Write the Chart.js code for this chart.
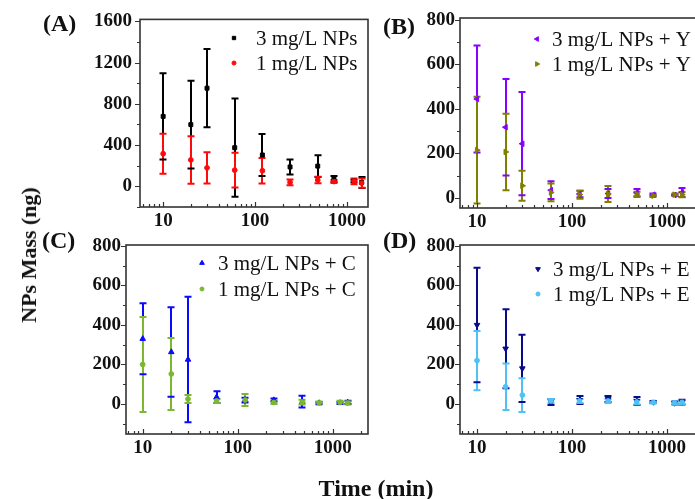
<!DOCTYPE html>
<html><head><meta charset="utf-8">
<script src="https://cdn.jsdelivr.net/npm/chart.js@4.4.1/dist/chart.umd.min.js"></script>
<style>
html,body{margin:0;padding:0;width:695px;height:499px;overflow:hidden;background:#fff;}
.cv{position:absolute;left:0;top:0;}
.lbl{position:absolute;font-family:"Liberation Serif","Times New Roman",serif;font-weight:bold;color:#111;white-space:nowrap;line-height:1;}
</style></head><body>
<canvas id="cA" class="cv" width="695" height="499"></canvas>
<canvas id="cB" class="cv" width="760" height="499"></canvas>
<canvas id="cC" class="cv" width="695" height="499"></canvas>
<canvas id="cD" class="cv" width="760" height="499"></canvas>
<div class="lbl" style="left:43px;top:11px;font-size:24px;">(A)</div>
<div class="lbl" style="left:383px;top:14px;font-size:24px;">(B)</div>
<div class="lbl" style="left:42px;top:228px;font-size:24px;">(C)</div>
<div class="lbl" style="left:383px;top:228px;font-size:24px;">(D)</div>
<div class="lbl" id="ytitle" style="left:29px;top:255px;font-size:22px;transform:translate(-50%,-50%) rotate(-90deg);">NPs Mass (ng)</div>
<div class="lbl" style="left:376px;top:488px;font-size:24px;transform:translate(-50%,-50%);">Time (min)</div>
<script>
// ---- data ----
const times = [10, 20, 30, 60, 120, 240, 480, 720, 1200, 1440];
const xTickLabels = [10, 100, 1000];
const yTicksA = [0, 400, 800, 1200, 1600];
const yTicksB = [0, 200, 400, 600, 800];

const aLabels = ['3 mg/L NPs', '1 mg/L NPs'];
const a3Mean = [678, 598, 952, 374, 303, 187, 195, 70, 50, 36];
const a3Err  = [418, 425, 380, 477, 205, 73, 105, 30, 12, 54];
const a1Mean = [315, 255, 178, 156, 150, 38, 60, 45, 48, 30];
const a1Err  = [195, 230, 152, 169, 124, 28, 32, 15, 28, 45];

const bLabels = ['3 mg/L NPs + Y', '1 mg/L NPs + Y'];
const b3Mean = [445, 318, 244, 35, 18, 20, 23, 15, 13, 25];
const b3Err  = [240, 217, 232, 40, 15, 20, 17, 5, 4, 20];
const b1Mean = [215, 207, 55, 25, 15, 18, 18, 10, 15, 15];
const b1Err  = [240, 172, 67, 40, 18, 36, 10, 5, 5, 12];

const cLabels = ['3 mg/L NPs + C', '1 mg/L NPs + C'];
const c3Mean = [330, 263, 225, 35, 20, 20, 12, 5, 5, 8];
const c3Err  = [180, 227, 318, 30, 12, 8, 30, 5, 5, 8];
const c1Mean = [200, 152, 25, 15, 20, 8, 10, 5, 8, 5];
const c1Err  = [240, 182, 20, 10, 30, 8, 12, 8, 8, 8];

const dLabels = ['3 mg/L NPs + E', '1 mg/L NPs + E'];
const d3Mean = [400, 280, 180, 10, 20, 25, 15, 10, 5, 10];
const d3Err  = [290, 200, 170, 15, 20, 15, 20, 5, 8, 12];
const d1Mean = [220, 87, 45, 15, 15, 15, 10, 8, 5, 8];
const d1Err  = [150, 118, 85, 10, 10, 10, 12, 5, 8, 8];

// ---- plugins ----
const FONT = '"Liberation Serif","Times New Roman",serif';

function drawMarker(ctx, style, rot, r, x, y) {
  if (Chart.helpers && Chart.helpers.drawPoint) {
    Chart.helpers.drawPoint(ctx, {pointStyle: style, rotation: rot, radius: r, borderWidth: 1}, x, y);
  }
}

const errPlugin = {
  id: 'errbars',
  beforeDatasetsDraw(chart) {
    const {ctx, scales: {x, y}} = chart;
    const ds = chart.data.datasets;
    ctx.save();
    ctx.lineWidth = 2;
    ctx.lineCap = 'butt';
    ds.forEach(d => {
      ctx.strokeStyle = d.borderColor;
      ctx.beginPath();
      d.data.forEach((p, i) => {
        const px = Math.round(x.getPixelForValue(p.x));
        ctx.moveTo(px, y.getPixelForValue(p.y + d.errors[i]));
        ctx.lineTo(px, y.getPixelForValue(p.y - d.errors[i]));
      });
      ctx.stroke();
    });
    ds.forEach(d => {
      ctx.strokeStyle = d.borderColor;
      ctx.beginPath();
      d.data.forEach((p, i) => {
        const px = Math.round(x.getPixelForValue(p.x));
        [p.y + d.errors[i], p.y - d.errors[i]].forEach(v => {
          const py = y.getPixelForValue(v);
          ctx.moveTo(px - 3.5, py);
          ctx.lineTo(px + 3.5, py);
        });
      });
      ctx.stroke();
    });
    ctx.restore();
  }
};

const framePlugin = {
  id: 'frame',
  afterDraw(chart, args, opts) {
    const {ctx, chartArea: a, scales: {x, y}} = chart;
    ctx.save();
    ctx.strokeStyle = '#333';
    ctx.lineWidth = 1.2;
    ctx.beginPath();
    opts.yMajor.forEach(v => {
      const py = Math.round(y.getPixelForValue(v)) + 0.5;
      ctx.moveTo(a.left - 5, py); ctx.lineTo(a.left, py);
    });
    const step = opts.yMajor[1] - opts.yMajor[0];
    opts.yMajor.forEach(v => {
      [v - step / 2, v + step / 2].forEach(m => {
        if (m > y.min && m < y.max) {
          const py = Math.round(y.getPixelForValue(m)) + 0.5;
          ctx.moveTo(a.left - 3, py); ctx.lineTo(a.left, py);
        }
      });
    });
    for (let e = 0; e <= 4; e++) {
      for (let k = 1; k <= 9; k++) {
        const v = k * Math.pow(10, e);
        if (v <= x.min || v >= x.max) continue;
        const px = Math.round(x.getPixelForValue(v)) + 0.5;
        const len = k === 1 ? 5 : 3;
        ctx.moveTo(px, a.bottom); ctx.lineTo(px, a.bottom - len);
      }
    }
    ctx.stroke();
    ctx.lineWidth = 1.6;
    ctx.strokeStyle = '#333';
    ctx.strokeRect(a.left, a.top, a.right - a.left, a.bottom - a.top);
    ctx.restore();
  }
};

const legendPlugin = {
  id: 'mylegend',
  afterDraw(chart, args, opts) {
    const {ctx} = chart;
    ctx.save();
    chart.data.datasets.forEach((d, i) => {
      const my = opts.y + i * opts.gap;
      ctx.fillStyle = d.backgroundColor;
      ctx.strokeStyle = d.borderColor;
      drawMarker(ctx, d.pointStyle, d.pointRotation || 0, d.pointRadius * 0.85, opts.mx, my);
      ctx.fillStyle = '#111';
      ctx.font = '21px ' + FONT;
      ctx.textBaseline = 'alphabetic';
      ctx.textAlign = 'left';
      ctx.fillText(d.label, opts.tx, my + 7);
    });
    ctx.restore();
  }
};

// ---- panels ----
const YW = 60, XH = 30;
function makePanel(id, p) {
  const cv = document.getElementById(id);
  const W = cv.width, H = cv.height;
  const mk = (label, mean, err, color, style, rot, r, order) => ({
    label: label,
    data: times.map((t, i) => ({x: t, y: mean[i]})),
    errors: err,
    backgroundColor: color, borderColor: color,
    pointStyle: style, pointRotation: rot, pointRadius: r, borderWidth: 1,
    showLine: false, order: order
  });
  new Chart(cv, {
    type: 'scatter',
    data: {datasets: [
      mk(p.labels[0], p.m3, p.e3, p.c3, p.s3, p.r3, p.rad3, 1),
      mk(p.labels[1], p.m1, p.e1, p.c1, p.s1, p.r1, p.rad1, 0)
    ]},
    options: {
      responsive: false, animation: false, events: [],
      layout: {autoPadding: false, padding: {
        left: p.area[0] - YW, top: p.area[1], right: W - p.area[2], bottom: H - p.area[3] - XH}},
      plugins: {
        legend: {display: false}, tooltip: {enabled: false},
        frame: {yMajor: p.yTicks},
        mylegend: p.legend
      },
      scales: {
        x: {
          type: 'logarithmic', min: p.xr[0], max: p.xr[1],
          afterBuildTicks: s => { s.ticks = xTickLabels.map(v => ({value: v})); },
          afterFit: s => { s.height = XH; },
          grid: {display: false, drawTicks: false}, border: {display: false},
          ticks: {autoSkip: false, maxRotation: 0, padding: 3, color: '#111',
                  font: {family: FONT, size: 19, weight: 'bold'}, callback: v => String(v)}
        },
        y: {
          type: 'linear', min: p.yr[0], max: p.yr[1],
          afterBuildTicks: s => { s.ticks = p.yTicks.map(v => ({value: v})); },
          afterFit: s => { s.width = YW; },
          grid: {display: false, drawTicks: false}, border: {display: false},
          ticks: {autoSkip: false, padding: p.ypad, color: '#111',
                  font: {family: FONT, size: 19, weight: 'bold'}, callback: v => String(v)}
        }
      }
    },
    plugins: [errPlugin, framePlugin, legendPlugin]
  });
}

makePanel('cA', {
  labels: aLabels, m3: a3Mean, e3: a3Err, m1: a1Mean, e1: a1Err,
  c3: '#000000', s3: 'rect', r3: 0, rad3: 2.8,
  c1: '#ff0a0a', s1: 'circle', r1: 0, rad1: 2.4,
  area: [140, 18, 368, 207], xr: [5.6, 1690], yr: [-202, 1620], yTicks: yTicksA, ypad: 8,
  legend: {mx: 234, tx: 256, y: 38, gap: 25}
});
makePanel('cB', {
  labels: bLabels, m3: b3Mean, e3: b3Err, m1: b1Mean, e1: b1Err,
  c3: '#8800ff', s3: 'triangle', r3: -90, rad3: 3.2,
  c1: '#808000', s1: 'triangle', r1: 90, rad1: 3.2,
  area: [460, 18, 720, 208], xr: [6.62, 3614], yr: [-45, 809], yTicks: yTicksB, ypad: 5,
  legend: {mx: 537, tx: 552, y: 39, gap: 25}
});
makePanel('cC', {
  labels: cLabels, m3: c3Mean, e3: c3Err, m1: c1Mean, e1: c1Err,
  c3: '#0a0aff', s3: 'triangle', r3: 0, rad3: 3.2,
  c1: '#7cb82f', s1: 'circle', r1: 0, rad1: 2.4,
  area: [126, 245, 368, 434], xr: [6.67, 2355], yr: [-152, 805], yTicks: yTicksB, ypad: 5,
  legend: {mx: 202, tx: 218, y: 263, gap: 26}
});
makePanel('cD', {
  labels: dLabels, m3: d3Mean, e3: d3Err, m1: d1Mean, e1: d1Err,
  c3: '#0a0a8a', s3: 'triangle', r3: 180, rad3: 3.2,
  c1: '#4fc1f5', s1: 'circle', r1: 0, rad1: 2.4,
  area: [460, 245, 720, 434], xr: [6.62, 3614], yr: [-152, 805], yTicks: yTicksB, ypad: 5,
  legend: {mx: 538, tx: 553, y: 269, gap: 25}
});
</script>
</body></html>
